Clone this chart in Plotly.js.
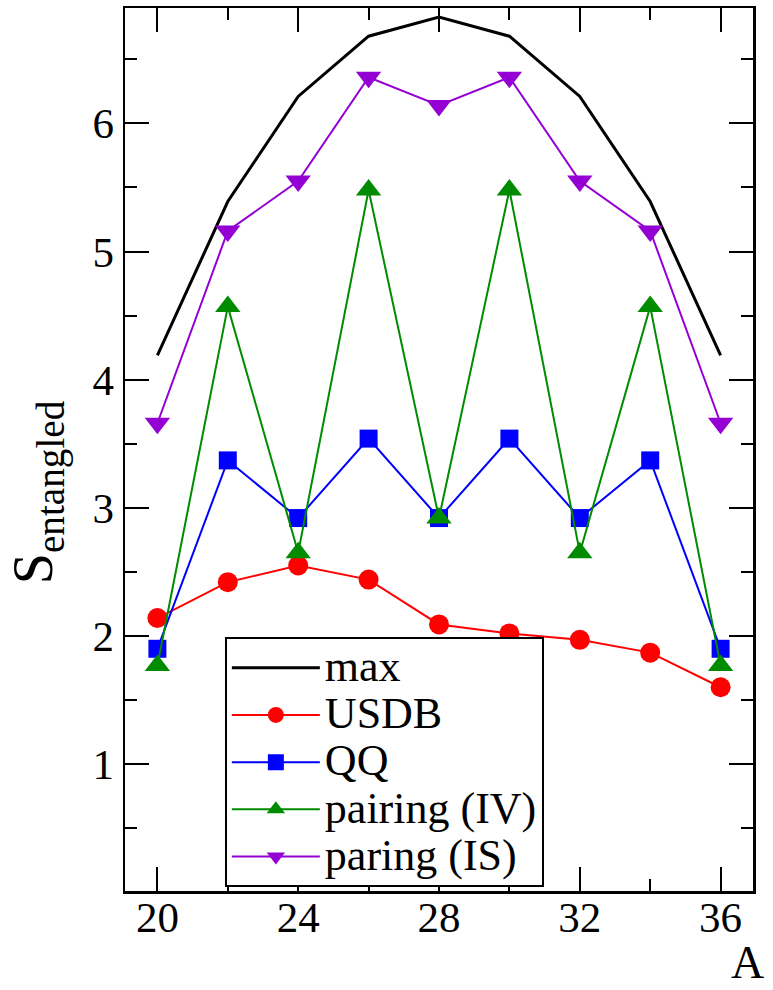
<!DOCTYPE html>
<html>
<head>
<meta charset="utf-8">
<script src="https://cdn.plot.ly/plotly-3.0.1.min.js"></script>
<style>
  html, body { margin: 0; padding: 0; background: #fff; }
  #chart { width: 773px; height: 990px; }
</style>
</head>
<body>
<div id="chart"></div>
<script>
// Mass number A of the sd-shell nuclei
const massNumber = [20, 22, 24, 26, 28, 30, 32, 34, 36];

// Entanglement entropy for each interaction
const maxEntropy   = [4.19, 5.39, 6.21, 6.68, 6.83, 6.68, 6.21, 5.39, 4.19];
const usdbEntropy  = [2.14, 2.42, 2.55, 2.44, 2.09, 2.02, 1.97, 1.87, 1.60];
const qqEntropy    = [1.90, 3.37, 2.92, 3.54, 2.92, 3.54, 2.92, 3.37, 1.90];
const pairIVEntropy = [1.77, 4.57, 2.65, 5.48, 2.92, 5.48, 2.65, 4.57, 1.77];
const pairISEntropy = [3.66, 5.16, 5.55, 6.36, 6.14, 6.36, 5.55, 5.16, 3.66];

const seriesNames = ['max', 'USDB', 'QQ', 'pairing (IV)', 'paring (IS)'];
const xTickVals = [20, 24, 28, 32, 36];
const yTickVals = [1, 2, 3, 4, 5, 6];

const SERIF = 'Liberation Serif';
const big = s => '<span style="font-size:44px">' + s + '</span>';

const traces = [
  {
    x: massNumber, y: maxEntropy, name: big(seriesNames[0]),
    mode: 'lines', line: { color: '#000000', width: 3 }
  },
  {
    x: massNumber, y: usdbEntropy, name: big(seriesNames[1]),
    mode: 'lines+markers', line: { color: '#ff0000', width: 2 },
    marker: { symbol: 'circle', size: 20, color: '#ff0000' }
  },
  {
    x: massNumber, y: qqEntropy, name: big(seriesNames[2]),
    mode: 'lines+markers', line: { color: '#0000ff', width: 2 },
    marker: { symbol: 'square', size: 18, color: '#0000ff' }
  },
  {
    x: massNumber, y: pairIVEntropy, name: big(seriesNames[3]),
    mode: 'lines+markers', line: { color: '#008b00', width: 2 },
    marker: { symbol: 'triangle-up', size: 22, color: '#008b00' }
  },
  {
    x: massNumber, y: pairISEntropy, name: big(seriesNames[4]),
    mode: 'lines+markers', line: { color: '#9400d3', width: 2 },
    marker: { symbol: 'triangle-down', size: 22, color: '#9400d3' }
  }
];

const axisCommon = {
  showline: true, linecolor: '#000', linewidth: 2.5,
  mirror: 'allticks', ticks: 'inside', ticklen: 24, tickwidth: 2, tickcolor: '#000',
  showgrid: false, zeroline: false,
  tickfont: { family: SERIF, size: 43, color: '#000' }
};

const layout = {
  width: 773, height: 990,
  margin: { l: 125, r: 20, t: 8, b: 99 },
  paper_bgcolor: '#fff', plot_bgcolor: '#fff',
  font: { family: SERIF, color: '#000' },
  xaxis: Object.assign({}, axisCommon, {
    range: [19.08, 36.92],
    tickmode: 'array', tickvals: xTickVals,
    ticklabelstandoff: -13,
    minor: { dtick: 2, tick0: 20, ticks: 'inside', ticklen: 12, tickwidth: 2, tickcolor: '#000', showgrid: false }
  }),
  yaxis: Object.assign({}, axisCommon, {
    range: [0.01, 6.9],
    tickmode: 'array', tickvals: yTickVals,
    minor: { dtick: 0.5, tick0: 0, ticks: 'inside', ticklen: 12, tickwidth: 2, tickcolor: '#000', showgrid: false }
  }),
  showlegend: true,
  legend: {
    x: 0.159, y: 0.2875, xanchor: 'left', yanchor: 'top',
    bgcolor: '#fff', bordercolor: '#000', borderwidth: 2,
    font: { family: SERIF, size: 34, color: '#000' },
    itemwidth: 88, tracegroupgap: 0
  },
  annotations: [
    {
      text: 'S<sub>entangled</sub>', xref: 'paper', yref: 'paper',
      x: -0.138, y: 0.452, xanchor: 'center', yanchor: 'middle',
      textangle: -90, showarrow: false,
      font: { family: SERIF, size: 56, color: '#000' }
    },
    {
      text: 'A', xref: 'paper', yref: 'paper',
      x: 1.0207, y: -0.1122, xanchor: 'right', yanchor: 'bottom',
      showarrow: false,
      font: { family: SERIF, size: 46, color: '#000' }
    }
  ]
};

Plotly.newPlot('chart', traces, layout, { displayModeBar: false, staticPlot: true });
</script>
</body>
</html>
